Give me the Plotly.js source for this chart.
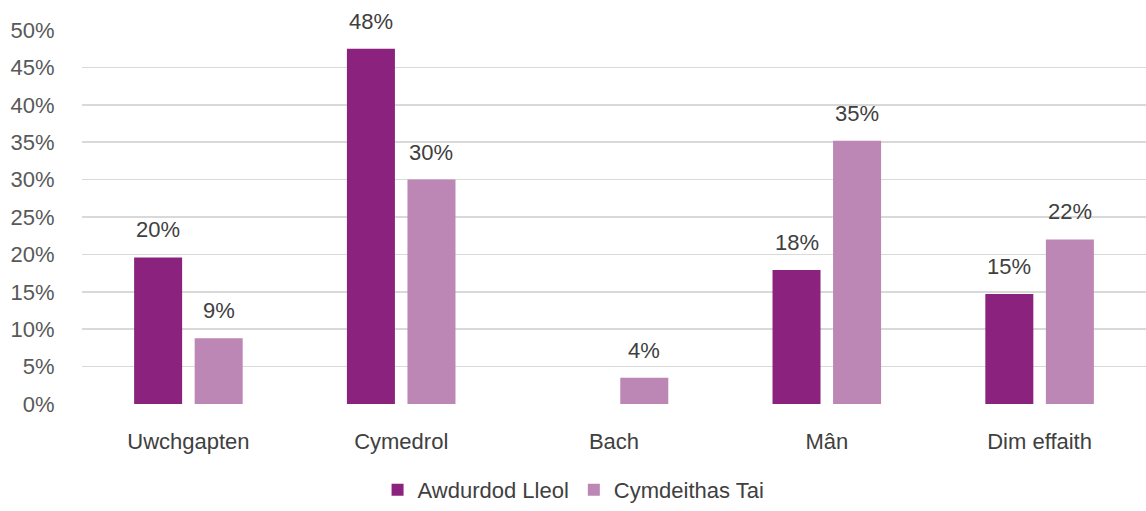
<!DOCTYPE html>
<html>
<head>
<meta charset="utf-8">
<script src="https://cdn.plot.ly/plotly-3.0.1.min.js"></script>
<style>html,body{margin:0;padding:0;background:#fff;}#chart{width:1146px;height:511px;}</style>
</head>
<body>
<div id="chart"></div>
<script>
const categories = ["Uwchgapten", "Cymedrol", "Bach", "Mân", "Dim effaith"];
const seriesNames = ["Awdurdod Lleol", "Cymdeithas Tai"];
const awdurdodLleol = [0.196, 0.475, 0, 0.179, 0.147];
const cymdeithasTai = [0.088, 0.300, 0.035, 0.352, 0.220];
const labelsAwdurdod = ["20%", "48%", "", "18%", "15%"];
const labelsCymdeithas = ["9%", "30%", "4%", "35%", "22%"];
const tickVals = [0, 0.05, 0.10, 0.15, 0.20, 0.25, 0.30, 0.35, 0.40, 0.45, 0.50];
const tickText = ["0%", "5%", "10%", "15%", "20%", "25%", "30%", "35%", "40%", "45%", "50%"];

const colors = ["#8B237E", "#BC86B5"];
const font = "Liberation Sans, Arial, sans-serif";

const traces = [
  {type: "bar", name: seriesNames[0], x: categories, y: awdurdodLleol, marker: {color: colors[0]}, hoverinfo: "none"},
  {type: "bar", name: seriesNames[1], x: categories, y: cymdeithasTai, marker: {color: colors[1]}, hoverinfo: "none"}
];

const annotations = [];
const offsets = [-0.142, 0.142];
[[awdurdodLleol, labelsAwdurdod], [cymdeithasTai, labelsCymdeithas]].forEach(([vals, labs], s) => {
  vals.forEach((v, i) => {
    if (!labs[i]) return;
    annotations.push({
      x: i + offsets[s], y: v, xref: "x", yref: "y",
      text: labs[i], showarrow: false, yanchor: "bottom", yshift: 13,
      font: {family: font, size: 22, color: "#404040"}
    });
  });
});

const H = 511, T = 30, B = 107;
const layout = {
  width: 1146, height: H,
  margin: {l: 82, r: 0, t: T, b: 0},
  paper_bgcolor: "#fff", plot_bgcolor: "#fff",
  barmode: "group", bargap: 0.431, bargroupgap: 0.207,
  showlegend: true,
  legend: {orientation: "h", x: 0.462, xanchor: "center", y: 0, yanchor: "bottom",
           font: {family: font, size: 22, color: "#404040"}, traceorder: "normal"},
  xaxis: {type: "category", tickfont: {family: font, size: 22, color: "#404040"},
          showgrid: false, zeroline: false, showline: false,
          ticks: "outside", ticklen: 18, tickcolor: "rgba(0,0,0,0)"},
  yaxis: {domain: [B / (H - T), 1], range: [0, 0.5], tickvals: tickVals, ticktext: tickText,
          tickfont: {family: font, size: 22, color: "#595959"},
          showgrid: true, gridcolor: "#D9D9D9", gridwidth: 1.5, zeroline: false, showline: false,
          ticks: "outside", ticklen: 22, tickcolor: "rgba(0,0,0,0)"},
  annotations: annotations
};

Plotly.newPlot("chart", traces, layout, {displayModeBar: false, staticPlot: true});
</script>
</body>
</html>
